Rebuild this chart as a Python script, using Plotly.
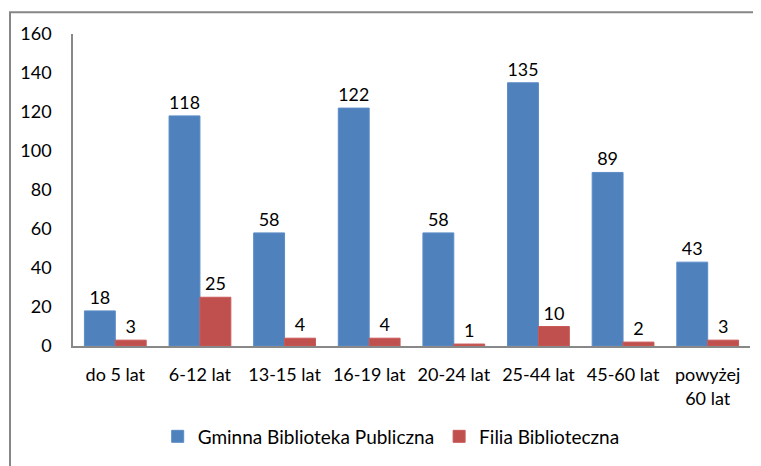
import plotly.graph_objects as go

# dane
categories = ["do 5 lat", "6-12 lat", "13-15 lat", "16-19 lat", "20-24 lat",
              "25-44 lat", "45-60 lat", "powyżej<br>60 lat"]
gminna = [18, 118, 58, 122, 58, 135, 89, 43]
filia = [3, 25, 4, 4, 1, 10, 2, 3]

FONT = "Lato, Open Sans, sans-serif"

fig = go.Figure()
fig.add_trace(go.Bar(
    x=categories, y=gminna, name="Gminna Biblioteka Publiczna",
    marker=dict(color="#4F81BD", line=dict(color="#5B8CC8", width=1)),
    text=gminna, textposition="outside", cliponaxis=False,
    textfont=dict(size=18, color="#000000"),
))
fig.add_trace(go.Bar(
    x=categories, y=filia, name="Filia Biblioteczna",
    marker=dict(color="#C0504D", line=dict(color="#C85A57", width=1)),
    text=filia, textposition="outside", cliponaxis=False,
    textfont=dict(size=18, color="#000000"),
))

# strona ma margines 8px, więc figura jest mniejsza o 8px
fig.update_layout(
    width=753, height=458,
    margin=dict(l=65, r=11, t=26, b=116),
    paper_bgcolor="white", plot_bgcolor="white",
    barmode="group", bargap=0.27, bargroupgap=0,
    font=dict(family=FONT, size=18, color="#000000"),
    showlegend=True,
    legend=dict(orientation="h", x=0.47, xanchor="center", y=-0.29, yanchor="middle",
                font=dict(size=19), itemwidth=30, traceorder="normal"),
    xaxis=dict(showline=True, linecolor="#888888", linewidth=1.5, ticks="",
               showgrid=False, ticklabelstandoff=12, tickfont=dict(size=18)),
    yaxis=dict(range=[0, 160], dtick=20, showline=True, linecolor="#888888",
               linewidth=1.5, ticks="", showgrid=False, zeroline=False,
               ticklabelstandoff=16, tickfont=dict(size=18)),
    shapes=[dict(type="rect", xref="paper", yref="paper",
                 x0=(10 - 73) / 677, x1=1.1, y0=-0.5, y1=1 + (34 - 12) / 316,
                 line=dict(color="#868686", width=2))],
)

fig.write_html("out.html")
